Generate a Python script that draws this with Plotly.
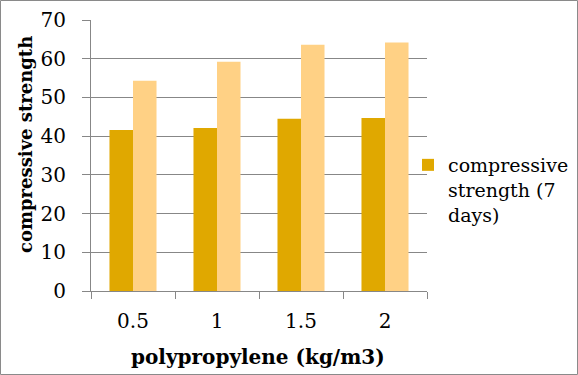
import plotly.graph_objects as go

categories = ["0.5", "1", "1.5", "2"]
strength_7 = [41.6, 42.1, 44.5, 44.7]
strength_28 = [54.3, 59.2, 63.6, 64.2]
y_ticks = [0, 10, 20, 30, 40, 50, 60, 70]

W, H = 578, 375
ml, mr, mt, mb = 91, 151, 20, 84
FONT = "DejaVu Serif"
pw = W - ml - mr
ph = H - mt - mb


def px_x(x):
    return (x - ml) / pw


def px_y(y):
    return 1 - (y - mt) / ph


fig = go.Figure()
fig.add_trace(go.Bar(x=categories, y=strength_7, name="compressive<br>strength (7<br>days)",
                     marker_color="#E0A800", marker_line_width=0))
fig.add_trace(go.Bar(x=categories, y=strength_28, name="compressive strength (28 days)",
                     marker_color="#FFD185", marker_line_width=0, showlegend=False))

fig.add_shape(type="rect", xref="paper", yref="paper",
              x0=px_x(0.5), x1=px_x(W - 0.5), y0=px_y(H - 0.5), y1=px_y(0.5),
              line=dict(color="#8a8a8a", width=1), layer="below")

fig.add_annotation(text="<b>compressive strength</b>", xref="paper", yref="paper",
                   x=px_x(25), y=px_y(145), textangle=-90, showarrow=False,
                   xanchor="center", yanchor="middle", font=dict(size=18, family=FONT))
fig.add_annotation(text="<b>polypropylene (kg/m3)</b>", xref="paper", yref="paper",
                   x=px_x(258), y=px_y(357), showarrow=False,
                   xanchor="center", yanchor="middle", font=dict(size=20, family=FONT))

fig.update_layout(
    width=W, height=H,
    margin=dict(l=ml, r=mr, t=mt, b=mb, pad=0, autoexpand=False),
    paper_bgcolor="white", plot_bgcolor="white",
    barmode="group", bargap=0.44, bargroupgap=0,
    font=dict(family=FONT, color="black"),
    showlegend=True,
    legend=dict(x=px_x(408), y=px_y(146), xanchor="left", yanchor="top", valign="top",
                font=dict(family=FONT, size=19, color="black"), itemsizing="constant",
                bgcolor="rgba(0,0,0,0)"),
    xaxis=dict(
        type="category", showline=True, linecolor="#878787", linewidth=1,
        ticks="outside", ticklen=7, tickcolor="#878787", tickson="boundaries",
        showgrid=False, tickfont=dict(size=20), automargin=False, ticklabelstandoff=12,
    ),
    yaxis=dict(
        range=[0, 70], tickvals=y_ticks, showline=True, linecolor="#878787", linewidth=1,
        ticks="outside", ticklen=8, tickcolor="#878787", automargin=False,
        showgrid=True, gridcolor="#878787", gridwidth=1, zeroline=False,
        tickfont=dict(size=20), ticklabelstandoff=12,
    ),
)

fig.write_html("out.html", config={"displayModeBar": False},
               post_script="document.body.style.margin='0';"
                           "document.querySelectorAll('.legendtext').forEach(function(t){"
                           "t.style.fontFamily='DejaVu Serif';});")
